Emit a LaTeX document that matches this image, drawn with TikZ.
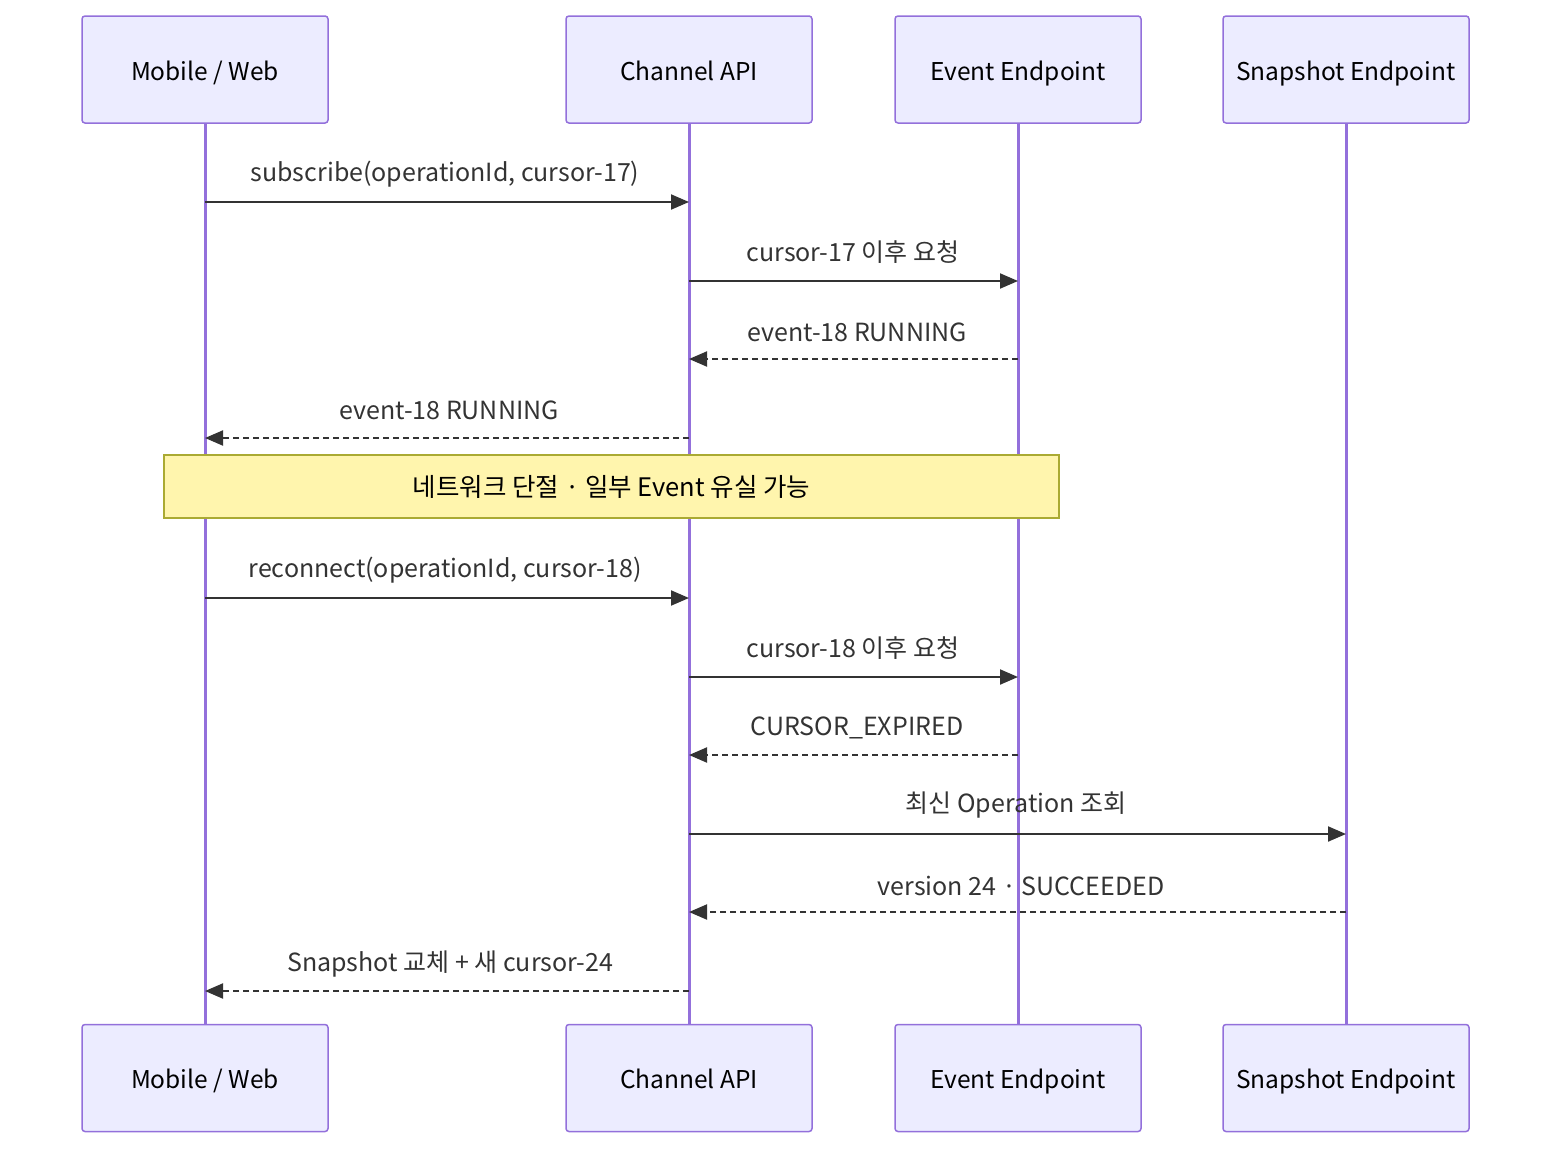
\documentclass[tikz,border=0pt]{standalone}
\usepackage{fontspec}
\setmainfont{Noto Sans CJK KR}
\usetikzlibrary{arrows.meta}
\definecolor{lifeC}{HTML}{9370DB}
\definecolor{boxF}{HTML}{ECECFF}
\definecolor{arrC}{HTML}{333333}
\definecolor{noteF}{HTML}{FFF5AD}
\definecolor{noteD}{HTML}{AAAA33}
\tikzset{
  actor/.style={draw=lifeC, fill=boxF, line width=1.5pt, rounded corners=3pt, minimum width=246pt, minimum height=107pt, inner sep=0pt, font=\fontsize{24.5}{29}\selectfont, text=black, text height=23pt, text depth=2pt},
  life/.style={draw=lifeC, line width=3pt},
  msg/.style={draw=arrC, line width=2pt, -{Triangle[length=18pt,width=15pt]}},
  reply/.style={msg, dash pattern=on 6pt off 4pt},
  lbl/.style={font=\fontsize{25}{29}\selectfont, text=arrC, inner sep=0pt, yshift=-2.5pt},
  notebox/.style={draw=noteD, fill=noteF, line width=1.5pt, minimum width=895pt, minimum height=63pt, inner sep=0pt, font=\fontsize{25.5}{29}\selectfont, text=black}
}
\begin{document}
\begin{tikzpicture}[x=1pt,y=-1pt]
\useasboundingbox (0,0) rectangle (1568,1162);
% actors
\node[actor] (mT) at (205,69.5) {Mobile / Web};
\node[actor] (cT) at (689,69.5) {Channel API};
\node[actor] (eT) at (1018,69.5) {Event Endpoint};
\node[actor] (sT) at (1346,69.5) {Snapshot Endpoint};
\node[actor] (mB) at (205,1078) {Mobile / Web};
\node[actor] (cB) at (689,1078) {Channel API};
\node[actor] (eB) at (1018,1078) {Event Endpoint};
\node[actor] (sB) at (1346,1078) {Snapshot Endpoint};
% lifelines
\draw[life] (mT.south) -- (mB.north);
\draw[life] (cT.south) -- (cB.north);
\draw[life] (eT.south) -- (eB.north);
\draw[life] (sT.south) -- (sB.north);
% message coordinates
\foreach \n/\y in {1/202,2/281,3/359,4/438,5/598,6/677,7/755,8/834,9/912,10/991}{
  \coordinate (m\n) at (205,\y);
  \coordinate (c\n) at (689,\y);
  \coordinate (e\n) at (1018,\y);
  \coordinate (s\n) at (1346,\y);
}
\draw[msg] (m1) -- (c1);
\node[lbl] (l1) at (445,172) {subscribe(operationId, cursor-17)};
\draw[msg] (c2) -- (e2);
\node[lbl] (l2) at (853,250) {cursor-17 이후 요청};
\draw[reply] (e3) -- (c3);
\node[lbl] (l3) at (857,330) {event-18 RUNNING};
\draw[reply] (c4) -- (m4);
\node[lbl] (l4) at (449,408) {event-18 RUNNING};
% note
\node[notebox] (note) at (611.5,486.5) {네트워크 단절 · 일부 Event 유실 가능};
\draw[msg] (m5) -- (c5);
\node[lbl] (l5) at (445,568) {reconnect(operationId, cursor-18)};
\draw[msg] (c6) -- (e6);
\node[lbl] (l6) at (853,646) {cursor-18 이후 요청};
\draw[reply] (e7) -- (c7);
\node[lbl] (l7) at (857,725) {CURSOR\_EXPIRED};
\draw[msg] (c8) -- (s8);
\node[lbl] (l8) at (1016,803) {최신 Operation 조회};
\draw[reply] (s9) -- (c9);
\node[lbl] (l9) at (1021,883) {version 24 · SUCCEEDED};
\draw[reply] (c10) -- (m10);
\node[lbl] (l10) at (450,962) {Snapshot 교체 + 새 cursor-24};
\end{tikzpicture}
\end{document}
